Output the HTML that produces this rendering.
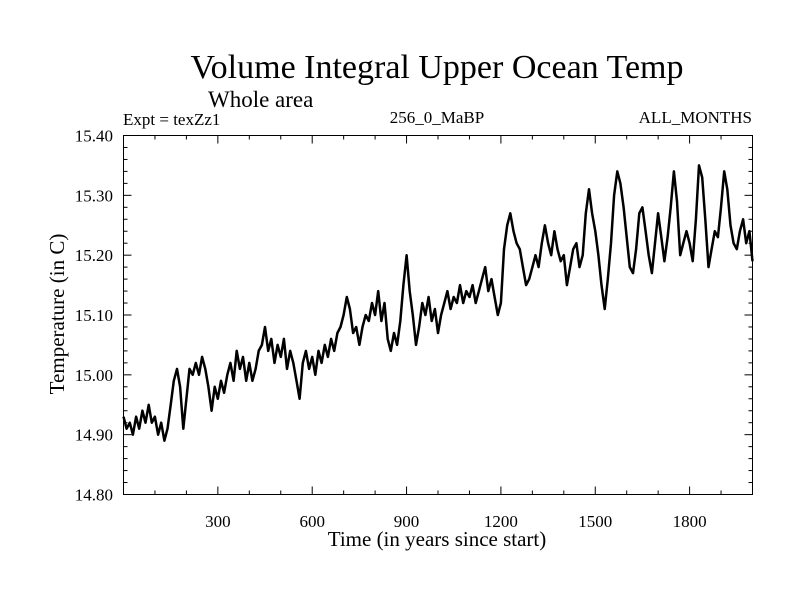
<!DOCTYPE html>
<html><head><meta charset="utf-8"><style>
body{margin:0;background:#fff;}
svg text{font-family:"Liberation Serif",serif;fill:#000;}
</style></head><body>
<svg id="chart" width="800" height="600" xmlns="http://www.w3.org/2000/svg">
<rect width="800" height="600" fill="#fff"/>
<text x="437" y="78" font-size="34" text-anchor="middle">Volume Integral Upper Ocean Temp</text>
<text x="208" y="107" font-size="23">Whole area</text>
<text x="123" y="125" font-size="17">Expt = texZz1</text>
<text x="437" y="123" font-size="17" text-anchor="middle">256_0_MaBP</text>
<text x="752" y="123" font-size="17" text-anchor="end">ALL_MONTHS</text>
<text x="437" y="546" font-size="21" text-anchor="middle">Time (in years since start)</text>
<text transform="translate(64,314) rotate(-90)" font-size="21" text-anchor="middle">Temperature (in C)</text>
<g id="axes"></g>
<path id="series" fill="none" stroke="#000" stroke-width="2.5" stroke-linejoin="round"/>
<rect x="123.5" y="135.5" width="629" height="359" fill="none" stroke="#000" stroke-width="1"/>
</svg>
<script>
const years = [];
for (let i = 0; i <= 200; i++) years.push(i * 10);
const temps = [
14.93,14.91,14.92,14.90,14.93,14.91,14.94,14.92,14.95,14.92,
14.93,14.90,14.92,14.89,14.91,14.95,14.99,15.01,14.98,14.91,
14.96,15.01,15.00,15.02,15.00,15.03,15.01,14.98,14.94,14.98,
14.96,14.99,14.97,15.00,15.02,14.99,15.04,15.01,15.03,14.99,
15.02,14.99,15.01,15.04,15.05,15.08,15.04,15.06,15.02,15.05,
15.03,15.06,15.01,15.04,15.02,14.99,14.96,15.02,15.04,15.01,
15.03,15.00,15.04,15.02,15.05,15.03,15.06,15.04,15.07,15.08,
15.10,15.13,15.11,15.07,15.08,15.05,15.08,15.10,15.09,15.12,
15.10,15.14,15.09,15.12,15.06,15.04,15.07,15.05,15.09,15.15,
15.20,15.14,15.10,15.05,15.08,15.12,15.10,15.13,15.09,15.11,
15.07,15.10,15.12,15.14,15.11,15.13,15.12,15.15,15.12,15.14,
15.13,15.15,15.12,15.14,15.16,15.18,15.14,15.16,15.13,15.10,
15.12,15.21,15.25,15.27,15.24,15.22,15.21,15.18,15.15,15.16,
15.18,15.20,15.18,15.22,15.25,15.22,15.20,15.24,15.21,15.19,
15.20,15.15,15.18,15.21,15.22,15.18,15.20,15.27,15.31,15.27,
15.24,15.20,15.15,15.11,15.16,15.22,15.30,15.34,15.32,15.28,
15.23,15.18,15.17,15.21,15.27,15.28,15.24,15.20,15.17,15.22,
15.27,15.23,15.19,15.23,15.28,15.34,15.29,15.20,15.22,15.24,
15.22,15.19,15.26,15.35,15.33,15.26,15.18,15.21,15.24,15.23,
15.28,15.34,15.31,15.25,15.22,15.21,15.24,15.26,15.22,15.24,15.19];
const xTickLabels = [300, 600, 900, 1200, 1500, 1800];
const yTickLabels = ["14.80","14.90","15.00","15.10","15.20","15.30","15.40"];

const X0 = 123.5, X1 = 752.5, Y0 = 494.5, Y1 = 135.5;
const xMin = 0, xMax = 2000, yMin = 14.8, yMax = 15.4;
const sx = v => X0 + (v - xMin) / (xMax - xMin) * (X1 - X0);
const sy = v => Y0 - (v - yMin) / (yMax - yMin) * (Y0 - Y1);
const NS = "http://www.w3.org/2000/svg";
const axes = document.getElementById("axes");
function line(x1, y1, x2, y2, name) {
  const l = document.createElementNS(NS, "line");
  l.setAttribute("x1", x1); l.setAttribute("y1", y1);
  l.setAttribute("x2", x2); l.setAttribute("y2", y2);
  l.setAttribute("stroke", "#000"); l.setAttribute("stroke-width", "1");
  
  
  axes.appendChild(l);
}
function text(x, y, s, anchor, name) {
  const t = document.createElementNS(NS, "text");
  t.setAttribute("x", x); t.setAttribute("y", y);
  t.setAttribute("font-size", "17");
  t.setAttribute("text-anchor", anchor);
  t.textContent = s;
  
  
  axes.appendChild(t);
}
for (let v = 100; v < xMax; v += 100) {
  const major = v % 300 === 0;
  const len = major ? 8 : 4;
  const x = sx(v);
  line(x, Y0, x, Y0 - len, "x-tick");
  line(x, Y1, x, Y1 + len, "x-tick-top");
}
xTickLabels.forEach(v => text(sx(v), 527, String(v), "middle", "x-tick-label"));
for (let i = 1; i < 30; i++) {
  const v = yMin + i * 0.02;
  const major = i % 5 === 0;
  const len = major ? 8 : 4;
  const y = sy(v);
  line(X0, y, X0 + len, y, "y-tick");
  line(X1, y, X1 - len, y, "y-tick-right");
}
yTickLabels.forEach(s => text(113, sy(parseFloat(s)) + 6, s, "end", "y-tick-label"));
let d = "";
years.forEach((t, i) => { d += (i ? "L" : "M") + sx(t).toFixed(1) + "," + sy(temps[i]).toFixed(1); });
document.getElementById("series").setAttribute("d", d);
</script>
</body></html>
